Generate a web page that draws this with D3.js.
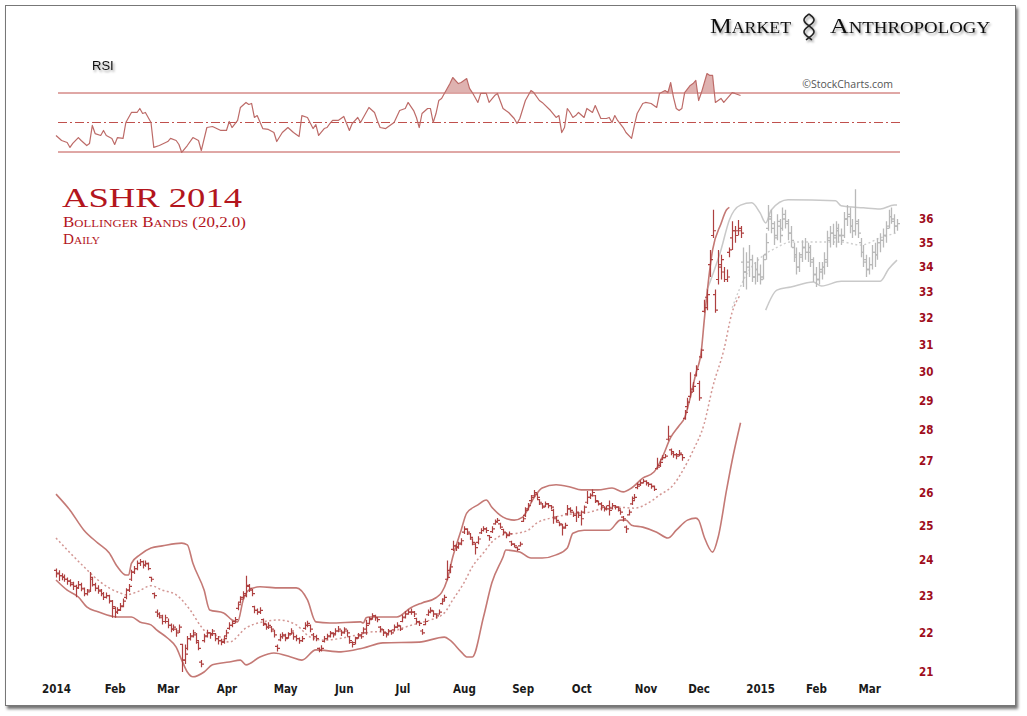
<!DOCTYPE html>
<html>
<head>
<meta charset="utf-8">
<script src="https://cdn.jsdelivr.net/npm/d3@7"></script>
<style>
  body { margin: 0; background: #fff; }
  svg { display: block; }
</style>
</head>
<body>
<svg width="1027" height="716"></svg>
<script>
// x positions are trading-day indexes from Jan 2 2014
const monthIdx = [0, 21, 40, 61, 82, 103, 124, 146, 167, 188, 211, 230, 252, 272, 291];
const monthLabels = ["2014", "Feb", "Mar", "Apr", "May", "Jun", "Jul", "Aug", "Sep", "Oct", "Nov", "Dec", "2015", "Feb", "Mar"];
const priceTicks = [21, 22, 23, 24, 25, 26, 27, 28, 29, 30, 31, 32, 33, 34, 35, 36];
const lastRedDay = 245; // bars after this are the grey 2015 overlay

const barOpen = [
  23.70,23.60,23.55,23.52,23.45,23.40,23.30,23.25,23.22,23.30,23.18,23.05,23.15,23.45,23.30,23.20,23.12,23.05,22.95,23.00,22.85, // jan
  22.65,22.55,22.62,22.72,22.95,23.15,23.45,23.65,23.75,23.90,23.95,23.85,23.88,23.50,23.05,22.55,22.50,22.40,22.30, // feb
  22.30,22.20,22.10,22.10,22.05,21.70,21.30,21.60,21.85,21.92,21.95,21.75,21.25,21.80,21.92,22.00,21.98,21.98,21.85,21.80,21.78, // mar
  21.92,22.12,22.20,22.30,22.65,22.82,22.95,23.00,23.28,23.15,22.70,22.60,22.55,22.35,22.22,22.15,22.15,22.05,21.65,21.82,21.90, // apr
  21.92,21.88,21.98,22.00,21.90,21.85,21.80,22.12,22.20,22.20,21.95,21.90,21.60,21.55,21.78,21.85,21.92,21.98,21.98,22.05,22.05, // may
  22.02,22.05,21.90,21.75,21.75,21.88,21.92,22.00,22.00,22.25,22.38,22.45,22.40,22.15,22.08,22.00,21.98,22.05,22.08,22.15,22.18, // jun
  22.30,22.42,22.50,22.55,22.55,22.38,22.28,22.05,22.22,22.48,22.55,22.58,22.50,22.50,22.78,22.90,23.45,23.70,24.30,24.40,24.38,24.48, // jul
  24.80,24.88,24.75,24.60,24.45,24.50,24.78,24.85,24.90,24.70,24.82,25.05,25.12,25.05,24.88,24.78,24.72,24.52,24.45,24.35,24.40, // aug
  25.12,25.30,25.50,25.75,25.90,25.95,25.78,25.65,25.58,25.65,25.60,25.45,25.25,25.10,25.02,24.92,25.35,25.50,25.40,25.30,25.38, // sep
  25.30,25.40,25.70,25.85,25.92,25.90,25.72,25.65,25.55,25.50,25.60,25.52,25.60,25.55,25.45,25.25,24.95,25.32,25.65,25.82,26.15,26.25,26.30, // oct
  26.35,26.30,26.25,26.18,26.75,26.85,27.05,27.10,27.70,27.35,27.25,27.20,27.20,27.20,28.40,28.80,29.15,29.40,29.90, // nov
  29.60,30.55,32.25,32.80,34.10,35.30,32.90,33.50,34.10,33.80,33.50,34.60,35.20,35.50,35.50,35.50, // dec
  34.2,33.8,34.0,34.3,33.6,33.9,33.7,33.6,34.5,35.6,36.0,35.6,35.3,35.7,35.6,36.0,35.8,35.4,34.8,34.4,34.0,34.5,34.8,34.6,34.6,34.2,33.7,33.5,
  33.8,34.0,34.2,35.1,35.4,35.3,35.5,35.3,35.3,36.0,36.1,35.7,35.5,35.8,35.0,34.6,34.2,33.9,34.1,34.6,34.5,35.0,35.1,35.3,35.7,36.1,35.9,35.7
];
const barHigh = [
  23.75,23.70,23.62,23.58,23.50,23.45,23.38,23.30,23.40,23.35,23.22,23.18,23.65,23.50,23.35,23.28,23.18,23.10,23.08,23.02,22.88,
  22.70,22.68,22.80,22.92,23.20,23.32,23.72,23.82,23.98,24.02,23.98,23.98,23.92,23.52,23.08,22.62,22.55,22.48,22.48,
  22.38,22.25,22.22,22.12,22.22,21.72,21.70,21.92,22.00,22.08,22.00,21.78,21.30,21.98,22.08,22.02,22.10,22.00,21.92,21.85,21.92,
  22.08,22.28,22.32,22.42,22.82,22.98,23.12,23.55,23.32,23.18,22.72,22.65,22.68,22.38,22.25,22.28,22.18,22.08,21.70,21.98,22.02,
  21.98,22.02,22.12,22.02,21.95,21.88,21.92,22.28,22.32,22.22,22.00,21.95,21.62,21.68,21.92,21.98,22.05,22.02,22.12,22.18,22.08,
  22.15,22.08,21.92,21.78,21.90,22.00,21.98,22.15,22.35,22.42,22.52,22.48,22.42,22.18,22.10,22.02,22.10,22.08,22.22,22.28,22.20,
  22.48,22.58,22.62,22.65,22.58,22.40,22.32,22.10,22.38,22.62,22.68,22.60,22.52,22.62,22.92,23.02,23.98,23.88,24.55,24.45,24.52,24.62,
  24.98,24.92,24.78,24.62,24.50,24.68,24.92,24.98,24.95,24.72,24.98,25.18,25.22,25.08,24.90,24.80,24.82,24.55,24.48,24.38,24.52,
  25.25,25.55,25.68,25.92,26.08,25.98,25.80,25.68,25.72,25.68,25.62,25.50,25.28,25.12,25.05,25.08,25.62,25.55,25.42,25.58,25.40,
  25.45,25.60,26.05,25.98,26.10,25.92,25.75,25.70,25.58,25.60,25.75,25.68,25.62,25.58,25.48,25.28,25.00,25.48,25.88,25.95,26.30,26.38,26.42,
  26.38,26.32,26.28,26.22,27.10,27.02,27.18,27.22,28.15,27.40,27.30,27.25,27.35,27.22,28.68,29.10,30.00,29.65,30.25,
  29.70,30.85,32.70,33.10,34.70,36.40,33.10,34.70,34.50,34.00,33.90,34.80,35.90,35.70,35.96,35.70,
  34.8,34.6,34.9,34.5,34.2,34.4,34.1,34.5,35.4,36.6,36.4,35.9,36.2,36.0,36.5,36.4,36.0,35.7,35.0,34.8,34.6,35.1,35.2,35.0,34.9,34.4,34.0,34.2,
  34.2,34.6,35.5,35.7,35.8,35.9,35.8,35.6,36.3,36.6,36.5,36.0,37.3,36.0,35.2,34.9,34.5,34.4,34.9,35.0,35.2,35.4,35.6,35.9,36.4,36.5,36.2,36.0
];
const barLow = [
  23.50,23.40,23.42,23.38,23.30,23.25,23.15,22.95,23.18,23.12,22.98,23.00,23.10,23.25,23.12,23.05,22.98,22.88,22.92,22.78,22.40,
  22.40,22.50,22.58,22.68,22.90,23.10,23.40,23.60,23.70,23.82,23.75,23.80,23.70,23.38,22.92,22.42,22.38,22.22,22.25,
  22.12,22.02,22.05,21.90,22.00,21.00,21.20,21.55,21.80,21.88,21.72,21.55,21.12,21.75,21.88,21.85,21.92,21.78,21.70,21.68,21.72,
  21.88,22.08,22.15,22.25,22.60,22.78,22.90,22.95,23.10,22.98,22.52,22.48,22.50,22.18,22.08,22.10,22.02,21.88,21.52,21.78,21.85,
  21.78,21.85,21.95,21.82,21.78,21.72,21.76,22.08,22.15,22.02,21.80,21.78,21.50,21.52,21.75,21.82,21.88,21.88,21.95,22.02,21.92,
  21.98,21.92,21.72,21.62,21.70,21.85,21.85,21.98,21.95,22.22,22.35,22.32,22.28,22.02,21.92,21.88,21.95,21.95,22.05,22.12,22.05,
  22.28,22.38,22.48,22.48,22.42,22.22,22.18,21.95,22.20,22.45,22.52,22.42,22.38,22.48,22.75,22.85,23.42,23.62,24.25,24.25,24.32,24.42,
  24.75,24.72,24.58,24.42,24.15,24.45,24.75,24.82,24.78,24.55,24.78,25.02,25.08,24.90,24.72,24.62,24.68,24.40,24.35,24.25,24.38,
  25.10,25.25,25.45,25.70,25.85,25.80,25.62,25.50,25.55,25.52,25.48,25.05,25.08,24.98,24.70,24.90,25.30,25.38,25.25,25.10,25.22,
  25.00,25.35,25.65,25.80,25.88,25.68,25.60,25.45,25.42,25.45,25.30,25.48,25.48,25.42,25.32,25.12,24.78,25.30,25.62,25.78,26.10,26.20,26.28,
  26.22,26.18,26.12,26.05,26.72,26.80,27.02,27.08,27.65,27.18,27.10,27.05,27.15,27.00,28.35,28.70,29.10,29.30,29.85,
  29.00,30.50,32.20,32.30,33.60,35.20,32.20,33.30,33.50,33.40,33.40,34.40,34.70,35.00,35.30,35.20,
  33.2,33.1,33.6,33.4,33.3,33.4,33.3,33.5,34.3,35.5,35.4,34.9,35.1,35.0,35.5,35.6,35.1,34.8,34.2,33.7,33.8,34.2,34.3,34.2,34.0,33.4,33.2,33.3,
  33.5,33.7,34.0,34.8,34.9,34.8,35.0,34.9,35.2,35.7,35.4,35.2,35.3,35.2,34.4,34.0,33.6,33.7,33.9,34.0,34.3,34.6,34.8,35.0,35.6,35.8,35.4,35.5
];
const barClose = [
  23.62,23.55,23.50,23.45,23.40,23.35,23.25,23.20,23.30,23.20,23.05,23.10,23.50,23.30,23.20,23.15,23.05,22.95,23.00,22.85,22.70,
  22.55,22.60,22.70,22.85,23.15,23.25,23.65,23.75,23.90,23.95,23.85,23.90,23.75,23.45,23.00,22.50,22.45,22.30,22.40,
  22.20,22.10,22.15,22.00,22.15,21.30,21.45,21.85,21.90,22.00,21.80,21.60,21.20,21.90,22.00,21.95,22.05,21.85,21.80,21.75,21.85,
  22.00,22.20,22.25,22.35,22.75,22.90,23.05,23.25,23.20,23.05,22.60,22.55,22.60,22.25,22.15,22.20,22.10,21.95,21.60,21.90,21.95,
  21.85,21.95,22.05,21.90,21.85,21.80,21.85,22.20,22.25,22.10,21.90,21.85,21.55,21.60,21.85,21.90,22.00,21.95,22.05,22.10,22.00,
  22.10,22.00,21.80,21.70,21.85,21.95,21.90,22.10,22.20,22.35,22.45,22.40,22.35,22.10,22.00,21.95,22.05,22.00,22.15,22.20,22.10,
  22.40,22.50,22.55,22.55,22.50,22.30,22.25,22.00,22.30,22.55,22.60,22.50,22.45,22.55,22.85,22.95,23.50,23.80,24.40,24.35,24.45,24.55,
  24.90,24.80,24.65,24.50,24.35,24.60,24.85,24.90,24.85,24.65,24.90,25.10,25.15,24.95,24.80,24.70,24.75,24.45,24.40,24.30,24.45,
  25.20,25.45,25.60,25.85,26.00,25.85,25.70,25.55,25.65,25.60,25.55,25.20,25.15,25.05,24.95,25.00,25.50,25.45,25.30,25.40,25.30,
  25.20,25.55,25.85,25.90,26.00,25.75,25.65,25.60,25.50,25.50,25.45,25.60,25.55,25.50,25.40,25.20,24.90,25.40,25.75,25.85,26.20,26.30,26.35,
  26.30,26.25,26.20,26.10,26.80,26.95,27.10,27.15,27.80,27.30,27.20,27.15,27.25,27.10,28.60,28.95,29.30,29.50,30.10,
  29.10,30.80,32.40,32.90,34.30,35.50,32.30,34.00,34.30,33.50,33.60,34.70,35.50,35.30,35.60,35.40,
  33.8,34.2,34.3,33.6,33.9,33.7,33.5,34.3,35.0,36.1,35.8,35.2,35.9,35.3,36.2,35.9,35.4,35.1,34.5,34.0,34.4,34.8,34.6,34.8,34.3,33.7,33.5,33.9,
  34.0,34.3,35.2,35.4,35.2,35.6,35.3,35.1,36.0,36.2,35.7,35.5,35.9,35.4,34.6,34.3,33.9,34.1,34.6,34.5,35.0,35.1,35.3,35.6,36.1,36.0,35.7,35.8
];

// Bollinger bands (20,2.0), [day, price]
const upperBand = [[0,25.95],[5,25.46],[10,24.86],[15,24.48],[19,24.2],[22,23.8],[25,23.57],[26,23.57],[27,23.9],[30,24.14],[34,24.34],[38,24.4],[45,24.48],[47,24.43],[49,23.9],[53,23.15],[55,22.61],[60,22.53],[63,22.34],[65,22.29],[67,22.88],[69,23.15],[73,23.24],[80,23.21],[86,23.21],[90,22.88],[93,22.29],[98,22.26],[109,22.29],[110,22.26],[111,22.4],[112,22.42],[122,22.42],[127,22.67],[131,22.8],[136,22.94],[138,23.08],[140,23.43],[142,24.08],[145,24.86],[147,25.37],[151,25.62],[154,25.77],[156,25.55],[160,25.25],[164,25.16],[167,25.25],[171,25.83],[174,26.14],[179,26.24],[184,26.17],[188,26.08],[194,26.08],[199,26.14],[203,26.02],[206,26.14],[210,26.45],[214,26.64],[217,27.11],[220,27.76],[223,28.15],[225,28.42],[227,29.11],[229,29.95],[231,30.8],[232,31.9],[235,34.7],[238,35.8],[240,36.4],[241,36.5]];
const midBand = [[0,24.63],[5,24.2],[10,23.8],[15,23.43],[19,23.21],[23,23.07],[25,23.02],[29,23.1],[34,23.27],[38,23.15],[43,23.02],[48,22.61],[52,22.16],[54,22.0],[58,21.92],[62,21.76],[68,22.13],[74,22.29],[80,22.34],[86,22.21],[91,21.89],[96,21.81],[102,21.86],[108,21.95],[114,22.03],[120,22.03],[124,22.13],[130,22.26],[134,22.34],[139,22.53],[142,22.88],[146,23.35],[149,23.8],[153,24.2],[156,24.51],[160,24.72],[165,24.77],[169,24.86],[172,25.07],[177,25.22],[182,25.31],[187,25.37],[191,25.4],[196,25.52],[201,25.55],[207,25.52],[212,25.68],[216,25.92],[221,26.24],[224,26.64],[228,27.33],[232,28.22],[235,29.46],[239,30.8],[242,32.22],[245,32.9]];
const lowerBand = [[0,23.43],[4,23.15],[8,22.96],[11,22.69],[15,22.56],[18,22.48],[22,22.42],[27,22.42],[30,22.29],[34,22.21],[36,22.08],[40,21.86],[43,21.63],[45,21.3],[47,21.0],[49,20.88],[53,21.0],[56,21.18],[62,21.25],[66,21.3],[68,21.18],[73,21.38],[78,21.48],[84,21.38],[88,21.3],[93,21.56],[102,21.51],[110,21.61],[117,21.74],[130,21.76],[139,21.89],[141,21.81],[145,21.51],[147,21.38],[149,21.38],[153,22.42],[156,23.35],[160,24.08],[161,24.28],[166,24.22],[170,24.05],[174,24.05],[179,24.14],[183,24.34],[185,24.77],[189,24.86],[198,24.86],[202,25.16],[204,25.16],[206,25.01],[210,24.95],[215,24.8],[219,24.63],[222,24.86],[226,25.16],[229,25.22],[230,25.16],[232,24.66],[235,24.22],[237,24.66],[240,26.08],[242,27.01],[245,28.25]];
const greyUpper = [[233,33.08],[238,34.7],[241,35.96],[245,36.6],[249,36.7],[252,36.26],[254,35.83],[256,36.39],[262,36.83],[279,36.79],[281,36.57],[289,36.48],[295,36.43],[300,36.61],[301,36.61]];
const greyMid = [[242,32.39],[247,33.68],[252,34.36],[258,34.8],[263,35.03],[271,35.03],[281,35.03],[288,34.9],[295,35.2],[301,35.42]];
const greyLower = [[254,32.3],[258,33.08],[263,33.2],[271,33.4],[274,33.24],[281,33.43],[295,33.43],[298,33.92],[301,34.28]];

// RSI, [day, value]
const rsiPoints = [[0,41.2],[2,37.8],[4,36.4],[5,33.1],[6,35.8],[8,39.8],[9,37.8],[11,34.4],[12,35.8],[13,48.0],[14,42.5],[16,41.2],[17,44.6],[18,41.2],[20,39.2],[21,35.1],[22,39.8],[24,39.2],[25,50.0],[27,56.8],[29,56.8],[30,59.5],[31,56.1],[32,56.8],[34,50.0],[35,33.1],[37,34.4],[40,37.1],[41,39.2],[43,37.8],[44,35.1],[45,29.7],[47,34.4],[49,39.8],[51,37.8],[52,31.0],[54,46.6],[56,47.3],[59,44.6],[61,44.6],[62,50.7],[63,46.6],[65,51.4],[66,60.2],[68,63.6],[69,62.2],[70,62.9],[71,53.4],[72,54.7],[74,45.9],[76,45.3],[78,43.2],[79,37.1],[81,43.2],[83,46.6],[85,43.2],[87,40.5],[88,54.7],[90,53.4],[92,45.9],[93,48.6],[94,41.2],[96,45.9],[97,46.6],[98,49.3],[99,51.4],[101,51.4],[103,54.1],[104,49.3],[105,44.6],[106,49.3],[108,53.4],[109,50.0],[111,56.8],[112,60.2],[114,56.8],[115,51.4],[116,46.6],[118,45.9],[119,47.3],[121,50.0],[123,58.1],[125,59.5],[126,63.6],[128,58.1],[129,53.4],[130,46.6],[131,56.1],[133,59.5],[134,59.5],[135,50.0],[136,56.1],[137,64.9],[138,66.3],[140,73.1],[141,76.4],[142,80.5],[144,76.4],[145,77.1],[147,79.8],[148,73.1],[149,70.3],[151,63.6],[152,69.7],[154,69.7],[155,63.6],[157,68.3],[158,69.7],[160,59.5],[161,58.1],[162,56.8],[164,52.7],[165,49.3],[166,52.7],[168,64.9],[170,71.7],[171,70.3],[173,64.9],[174,63.6],[177,58.1],[179,53.4],[180,54.7],[181,43.2],[182,46.6],[183,59.5],[184,56.8],[185,53.4],[186,54.7],[187,56.8],[189,53.4],[190,59.5],[192,56.8],[193,61.5],[195,52.7],[197,52.7],[198,53.4],[199,50.0],[200,54.7],[201,51.4],[203,46.6],[204,43.2],[206,39.2],[207,48.0],[208,56.1],[210,62.9],[211,63.6],[213,62.9],[215,60.2],[216,69.7],[218,71.7],[219,70.3],[220,77.1],[221,67.0],[222,59.5],[223,58.1],[224,59.5],[225,70.3],[227,75.1],[228,76.4],[229,78.5],[230,64.9],[231,70.3],[233,83.2],[234,81.9],[235,81.9],[236,63.6],[238,66.3],[239,63.6],[242,70.3],[243,69.7],[245,68.3]];
const rsiLevels = [30, 50, 70];

const svg = d3.select("svg");
const defs = svg.append("defs");

const frameShadow = defs.append("filter").attr("id", "frameShadow")
  .attr("x", "-5%").attr("y", "-5%").attr("width", "110%").attr("height", "110%");
frameShadow.append("feDropShadow").attr("dx", 2).attr("dy", 3).attr("stdDeviation", 1.6)
  .attr("flood-color", "#000").attr("flood-opacity", 0.55);

const textShadow = defs.append("filter").attr("id", "textShadow")
  .attr("x", "-10%").attr("y", "-30%").attr("width", "130%").attr("height", "180%");
textShadow.append("feDropShadow").attr("dx", 1.5).attr("dy", 2).attr("stdDeviation", 1.2)
  .attr("flood-color", "#000").attr("flood-opacity", 0.4);

// page frame
svg.append("rect")
  .attr("x", 5.5).attr("y", 5.5).attr("width", 1010).attr("height", 700)
  .attr("fill", "#fff").attr("stroke", "#777").attr("stroke-width", 1)
  .attr("filter", "url(#frameShadow)");

const x = d3.scaleLinear().domain([0, 302]).range([56, 899.8]);
const y = d3.scaleLog().domain([21, 36]).range([672, 219]);
const yR = d3.scaleLinear().domain([30, 70]).range([152, 93]);

function smallCaps(sel, str, big, small) {
  str.match(/[a-z]+|[^a-z]+/g).forEach(r => {
    sel.append("tspan")
      .attr("font-size", /[a-z]/.test(r) ? small : big)
      .text(r.toUpperCase());
  });
}

// ---- logo ----
const logo = svg.append("g").attr("filter", "url(#textShadow)").attr("fill", "#111")
  .attr("font-family", "'Liberation Serif', serif");
const t1 = logo.append("text").attr("x", 710).attr("y", 33)
  .attr("textLength", 81).attr("lengthAdjust", "spacingAndGlyphs");
smallCaps(t1, "Market", 22, 16);
const t2 = logo.append("text").attr("x", 830).attr("y", 33)
  .attr("textLength", 160).attr("lengthAdjust", "spacingAndGlyphs");
smallCaps(t2, "Anthropology", 22, 16);
// little dna helix between the words
const helix = logo.append("g").attr("fill", "none").attr("stroke", "#222").attr("stroke-width", 1.6);
const hy = d3.range(0, 1.001, 0.05);
helix.append("path").attr("d", d3.line()(hy.map(t => [809 + 5 * Math.sin(t * Math.PI * 2.2), 14 + t * 26])));
helix.append("path").attr("d", d3.line()(hy.map(t => [809 - 5 * Math.sin(t * Math.PI * 2.2), 14 + t * 26])));

// ---- RSI panel ----
svg.append("text").attr("x", 92).attr("y", 70)
  .attr("font-family", "'Liberation Sans', Arial, sans-serif").attr("font-size", 13)
  .attr("fill", "#111").attr("filter", "url(#textShadow)").text("RSI");

svg.append("text").attr("x", 893).attr("y", 88).attr("text-anchor", "end")
  .attr("font-family", "'Open Sans', sans-serif").attr("font-size", 10.5)
  .attr("fill", "#555").text("©StockCharts.com");

svg.append("g").selectAll("line").data(rsiLevels).join("line")
  .attr("x1", 58).attr("x2", 900)
  .attr("y1", d => yR(d)).attr("y2", d => yR(d))
  .attr("stroke", "#c0504d").attr("stroke-width", 1)
  .attr("stroke-dasharray", d => d === 50 ? "9,3,2,3" : null);

defs.append("clipPath").attr("id", "above70")
  .append("rect").attr("x", 0).attr("y", 0).attr("width", 1027).attr("height", yR(70));

svg.append("path").datum(rsiPoints)
  .attr("clip-path", "url(#above70)")
  .attr("fill", "#d9a4a2").attr("fill-opacity", 0.85)
  .attr("d", d3.area().x(d => x(d[0])).y0(yR(70)).y1(d => yR(d[1])));

svg.append("path").datum(rsiPoints)
  .attr("fill", "none").attr("stroke", "#bd6b68").attr("stroke-width", 1.2)
  .attr("stroke-linejoin", "round")
  .attr("d", d3.line().x(d => x(d[0])).y(d => yR(d[1])));

// ---- titles ----
svg.append("text").attr("x", 62).attr("y", 207)
  .attr("font-family", "'Liberation Serif', serif").attr("font-size", 27)
  .attr("fill", "#b3151d").attr("textLength", 180).attr("lengthAdjust", "spacingAndGlyphs")
  .text("ASHR 2014");
const sub1 = svg.append("text").attr("x", 63).attr("y", 227)
  .attr("font-family", "'Liberation Serif', serif").attr("fill", "#b3151d")
  .attr("textLength", 183).attr("lengthAdjust", "spacingAndGlyphs");
smallCaps(sub1, "Bollinger Bands (20,2.0)", 14, 10.5);
const sub2 = svg.append("text").attr("x", 63).attr("y", 244)
  .attr("font-family", "'Liberation Serif', serif").attr("fill", "#b3151d")
  .attr("textLength", 37).attr("lengthAdjust", "spacingAndGlyphs");
smallCaps(sub2, "Daily", 14, 10.5);

// ---- price panel ----
const bandLine = d3.line().x(d => x(d[0])).y(d => y(d[1])).curve(d3.curveMonotoneX);

const bars = d3.range(barClose.length).map(i => ({
  i, o: barOpen[i], h: barHigh[i], l: barLow[i], c: barClose[i], grey: i > lastRedDay
}));

function barPath(d) {
  const cx = Math.round(x(d.i)) + 0.5;
  return `M${cx},${y(d.h)}V${y(d.l)}M${cx - 2.5},${y(d.o)}H${cx}M${cx},${y(d.c)}H${cx + 2.5}`;
}

// grey overlay first so the red series sits on top
const greyG = svg.append("g").attr("fill", "none");
greyG.append("path").datum(greyUpper).attr("d", bandLine)
  .attr("stroke", "#c9c9c9").attr("stroke-width", 1.5);
greyG.append("path").datum(greyLower).attr("d", bandLine)
  .attr("stroke", "#c9c9c9").attr("stroke-width", 1.5);
greyG.append("path").datum(greyMid).attr("d", bandLine)
  .attr("stroke", "#cfcfcf").attr("stroke-width", 1.4).attr("stroke-dasharray", "2,2.5");
greyG.selectAll("path.bar").data(bars.filter(d => d.grey)).join("path")
  .attr("class", "bar").attr("d", barPath)
  .attr("stroke", "#b9b9b9").attr("stroke-width", 1.3);

const redG = svg.append("g").attr("fill", "none");
redG.append("path").datum(upperBand).attr("d", bandLine)
  .attr("stroke", "#c47975").attr("stroke-width", 1.6);
redG.append("path").datum(lowerBand).attr("d", bandLine)
  .attr("stroke", "#c47975").attr("stroke-width", 1.6);
redG.append("path").datum(midBand).attr("d", bandLine)
  .attr("stroke", "#d39794").attr("stroke-width", 1.5).attr("stroke-dasharray", "2,2.5");
redG.selectAll("path.bar").data(bars.filter(d => !d.grey)).join("path")
  .attr("class", "bar").attr("d", barPath)
  .attr("stroke", "#ae4040").attr("stroke-width", 1.2);

// ---- axes ----
const axisFont = "'DejaVu Sans Condensed', 'DejaVu Sans', sans-serif";

const yAxis = svg.append("g").attr("transform", "translate(919,0)")
  .call(d3.axisRight(y).tickValues(priceTicks).tickFormat(d3.format("d")).tickSize(0).tickPadding(0));
yAxis.select(".domain").remove();
yAxis.selectAll("text")
  .attr("font-family", axisFont).attr("font-weight", "bold")
  .attr("font-size", 11.5).attr("fill", "#9e0d1c");

const xAxis = svg.append("g").attr("transform", "translate(0,685)")
  .call(d3.axisBottom(x).tickValues(monthIdx).tickFormat((d, i) => monthLabels[i]).tickSize(0).tickPadding(0));
xAxis.select(".domain").remove();
xAxis.selectAll("text")
  .attr("font-family", axisFont).attr("font-weight", "bold")
  .attr("font-size", 11.5).attr("fill", "#1a1a1a");
</script>
</body>
</html>
